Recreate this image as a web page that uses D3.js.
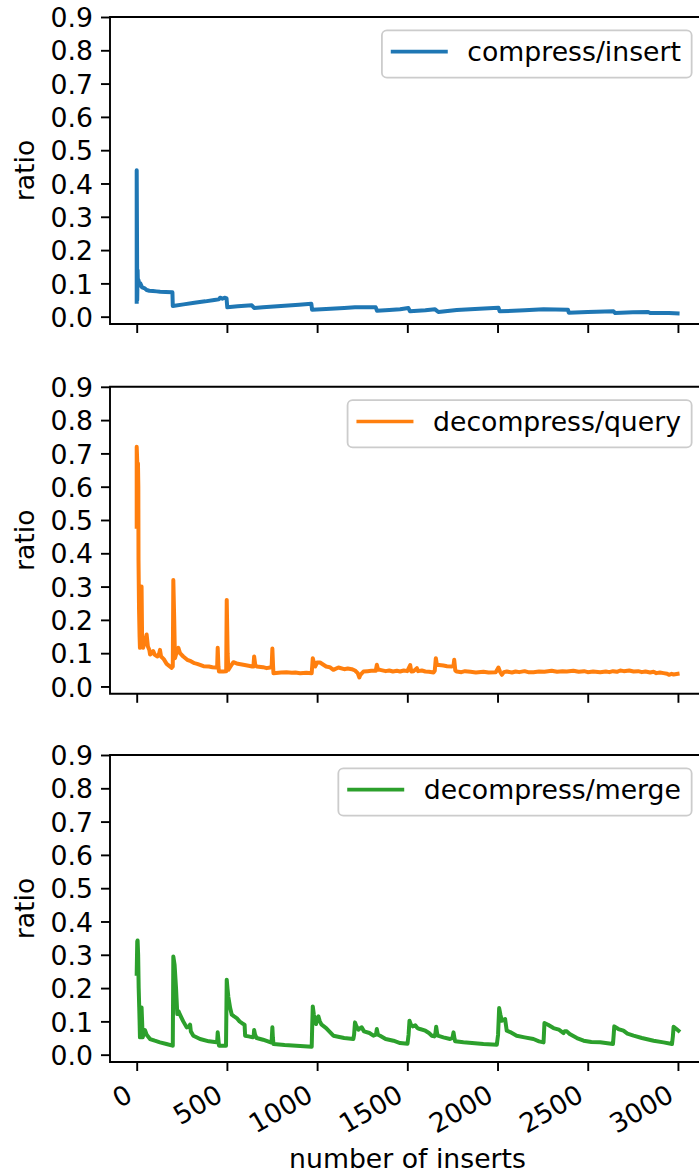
<!DOCTYPE html>
<html>
<head>
<meta charset="utf-8">
<script src="https://cdn.jsdelivr.net/npm/d3@7"></script>
<style>
  html, body { margin: 0; padding: 0; background: #fff; }
  svg text { font-family: "DejaVu Sans", sans-serif; fill: #000; }
</style>
</head>
<body>
<svg id="chart" width="699" height="1174"></svg>
<script>
// ---- data ----
const seriesNames = ["compress/insert", "decompress/query", "decompress/merge"];
const seriesColors = ["#1f77b4", "#ff7f0e", "#2ca02c"];
const xTickValues = [0, 500, 1000, 1500, 2000, 2500, 3000];
const yTickValues = [0.0, 0.1, 0.2, 0.3, 0.4, 0.5, 0.6, 0.7, 0.8, 0.9];
const xLabel = "number of inserts";
const yLabel = "ratio";

const insertX = [0,0,2,3,5,7,10,15,20,30,45,55,70,90,110,130,160,198,200,260,320,380,430,455,462,475,490,498,502,560,638,651,700,800,900,968,972,1050,1150,1210,1325,1332,1400,1460,1506,1515,1600,1654,1672,1774,1900,2005,2012,2150,2255,2390,2395,2500,2643,2652,2750,2835,2846,2950,2998];
const insertY = [0.045,0.44,0.2,0.05,0.14,0.09,0.11,0.095,0.1,0.088,0.085,0.08,0.078,0.077,0.076,0.075,0.074,0.073,0.032,0.037,0.042,0.046,0.05,0.052,0.057,0.054,0.057,0.055,0.028,0.031,0.034,0.026,0.028,0.032,0.036,0.039,0.021,0.023,0.026,0.028,0.028,0.018,0.02,0.022,0.026,0.016,0.019,0.022,0.014,0.02,0.024,0.027,0.016,0.019,0.022,0.021,0.012,0.014,0.016,0.011,0.013,0.014,0.011,0.011,0.01];

const queryX = [0,0,4,7,9,10,13,16,18,22,25,27,30,35,40,48,55,62,70,74,85,92,100,115,125,129,135,150,166,180,194,200,203,208,212,220,231,240,258,280,300,320,335,351,370,400,420,440,446,449,453,456,480,496,499,504,508,520,536,560,591,620,640,647,651,657,665,700,720,739,748,752,756,758,800,830,860,880,906,940,970,976,983,989,1000,1016,1050,1070,1090,1118,1150,1170,1192,1210,1225,1234,1240,1257,1280,1300,1325,1331,1338,1349,1380,1400,1420,1442,1460,1480,1500,1516,1522,1534,1553,1560,1580,1600,1620,1645,1652,1658,1664,1700,1720,1747,1756,1760,1766,1774,1800,1820,1850,1880,1922,1950,1990,2005,2014,2024,2035,2051,2080,2100,2120,2150,2170,2199,2230,2260,2300,2330,2360,2384,2420,2450,2480,2500,2530,2569,2600,2620,2640,2662,2680,2700,2730,2754,2780,2800,2820,2846,2865,2880,2900,2920,2940,2950,2965,2976,2998];
const queryY = [0.48,0.72,0.66,0.67,0.6,0.38,0.23,0.15,0.116,0.13,0.2,0.30,0.14,0.116,0.125,0.14,0.156,0.12,0.11,0.096,0.1,0.106,0.095,0.09,0.1,0.11,0.09,0.082,0.068,0.062,0.056,0.06,0.32,0.2,0.085,0.1,0.116,0.1,0.09,0.08,0.076,0.07,0.068,0.065,0.061,0.06,0.058,0.057,0.058,0.116,0.06,0.045,0.045,0.046,0.26,0.1,0.05,0.06,0.073,0.068,0.065,0.062,0.06,0.06,0.09,0.065,0.06,0.058,0.055,0.057,0.06,0.114,0.06,0.04,0.042,0.043,0.041,0.042,0.04,0.041,0.04,0.085,0.07,0.06,0.072,0.072,0.06,0.058,0.05,0.057,0.052,0.054,0.052,0.048,0.04,0.027,0.035,0.045,0.046,0.047,0.047,0.065,0.05,0.05,0.046,0.048,0.045,0.047,0.045,0.048,0.046,0.064,0.045,0.046,0.055,0.046,0.048,0.045,0.044,0.042,0.047,0.085,0.065,0.063,0.061,0.06,0.062,0.08,0.048,0.045,0.043,0.046,0.044,0.042,0.044,0.042,0.043,0.057,0.044,0.035,0.043,0.045,0.042,0.045,0.043,0.046,0.043,0.043,0.045,0.044,0.047,0.044,0.046,0.045,0.047,0.044,0.046,0.043,0.045,0.043,0.045,0.043,0.046,0.044,0.048,0.046,0.048,0.045,0.046,0.043,0.045,0.042,0.044,0.04,0.042,0.04,0.038,0.035,0.038,0.036,0.038,0.042,0.045,0.044];

const mergeX = [0,3,5,8,11,14,16,18,22,25,27,30,33,40,46,55,74,100,129,165,198,200,203,210,218,225,232,240,258,277,290,296,300,314,351,400,443,446,449,452,456,495,499,503,508,518,527,540,554,570,591,598,601,620,643,648,651,656,665,700,743,748,752,755,758,820,906,970,973,976,982,988,994,1000,1007,1015,1025,1050,1090,1150,1201,1205,1210,1218,1229,1240,1247,1260,1290,1312,1326,1331,1337,1349,1380,1423,1460,1501,1507,1512,1520,1530,1544,1556,1570,1600,1620,1636,1650,1656,1660,1665,1669,1700,1737,1750,1756,1762,1765,1811,1922,1996,2003,2009,2016,2024,2035,2042,2051,2070,2106,2150,2199,2230,2255,2258,2260,2280,2310,2340,2366,2372,2384,2400,2440,2477,2520,2569,2640,2644,2647,2670,2698,2720,2754,2800,2865,2920,2967,2972,2976,2990,3003];
const mergeY = [0.243,0.34,0.343,0.3,0.2,0.142,0.1,0.052,0.06,0.12,0.142,0.1,0.052,0.065,0.074,0.06,0.047,0.042,0.037,0.032,0.027,0.027,0.295,0.27,0.2,0.122,0.13,0.12,0.1,0.082,0.085,0.09,0.07,0.057,0.047,0.04,0.037,0.04,0.067,0.05,0.027,0.027,0.225,0.2,0.173,0.14,0.12,0.115,0.11,0.1,0.092,0.09,0.057,0.055,0.052,0.055,0.074,0.06,0.05,0.045,0.037,0.04,0.082,0.05,0.032,0.029,0.026,0.024,0.09,0.145,0.12,0.1,0.092,0.11,0.115,0.1,0.09,0.08,0.057,0.05,0.047,0.06,0.097,0.085,0.075,0.08,0.082,0.07,0.065,0.057,0.06,0.077,0.06,0.057,0.047,0.042,0.035,0.033,0.06,0.102,0.09,0.085,0.088,0.08,0.077,0.072,0.065,0.057,0.055,0.065,0.084,0.065,0.057,0.052,0.047,0.05,0.067,0.047,0.04,0.037,0.032,0.03,0.06,0.14,0.12,0.102,0.105,0.107,0.072,0.068,0.057,0.052,0.047,0.04,0.037,0.07,0.095,0.09,0.08,0.075,0.065,0.07,0.07,0.062,0.05,0.042,0.038,0.037,0.032,0.06,0.085,0.077,0.072,0.063,0.057,0.05,0.042,0.037,0.032,0.055,0.084,0.078,0.072];

const seriesX = [insertX, queryX, mergeX];
const seriesY = [insertY, queryY, mergeY];

// ---- layout ----
const FS = 26.7;
const svg = d3.select("#chart");
const plotLeft = 110, plotRight = 705;
const panelTops = [17, 386.8, 755];
const panelH = 307;
const tickLen = 9;

const x = d3.scaleLinear().domain([-148, 3150]).range([plotLeft, plotRight]);

const defs = svg.append("defs");

panelTops.forEach((top, i) => {
  const bottom = top + panelH;
  const y = d3.scaleLinear().domain([-0.022, 0.9]).range([bottom, top]);
  const g = svg.append("g");

  defs.append("clipPath").attr("id", "clip" + i)
    .append("rect").attr("x", plotLeft).attr("y", top)
    .attr("width", plotRight - plotLeft).attr("height", panelH);

  // line
  const pts = seriesX[i].map((xv, k) => [xv, seriesY[i][k]]);
  const line = d3.line().x(d => x(d[0])).y(d => y(d[1]));
  g.append("path")
    .attr("clip-path", `url(#clip${i})`)
    .attr("d", line(pts))
    .attr("fill", "none")
    .attr("stroke", seriesColors[i])
    .attr("stroke-width", 4)
    .attr("stroke-linejoin", "round")
    .attr("stroke-linecap", "square");

  // y axis
  const yAxis = d3.axisLeft(y).tickValues(yTickValues).tickFormat(d3.format(".1f"))
    .tickSize(tickLen).tickPadding(8);
  const ya = g.append("g").attr("transform", `translate(${plotLeft},0)`).call(yAxis);
  ya.select(".domain").remove();
  ya.selectAll(".tick line").attr("stroke", "#000").attr("stroke-width", 1.9);
  ya.selectAll(".tick text").attr("font-size", FS).attr("font-family", "DejaVu Sans")
    .attr("dy", "0.36em").attr("fill", "#000");

  // x axis
  const xAxis = d3.axisBottom(x).tickValues(xTickValues).tickSize(tickLen)
    .tickFormat(i === 2 ? d3.format("d") : () => "");
  const xa = g.append("g").attr("transform", `translate(0,${bottom})`).call(xAxis);
  xa.select(".domain").remove();
  xa.selectAll(".tick line").attr("stroke", "#000").attr("stroke-width", 1.9);
  if (i === 2) {
    xa.selectAll(".tick text")
      .attr("font-size", FS).attr("font-family", "DejaVu Sans").attr("fill", "#000")
      .attr("text-anchor", "end")
      .attr("x", -3).attr("y", 38).attr("dy", 0)
      .attr("transform", "rotate(-30,-3,38)");
  } else {
    xa.selectAll(".tick text").remove();
  }

  // spines: left, top, bottom (right is off-canvas)
  g.append("path")
    .attr("d", `M${plotRight},${top}H${plotLeft}V${bottom}H${plotRight}`)
    .attr("fill", "none").attr("stroke", "#000").attr("stroke-width", 1.9)
    .attr("stroke-linecap", "square");

  // y label
  g.append("text")
    .attr("transform", `translate(34,${(top + bottom) / 2}) rotate(-90)`)
    .attr("text-anchor", "middle")
    .attr("font-size", FS)
    .text(yLabel);

  // legend
  const leg = g.append("g");
  const txt = leg.append("text").attr("font-size", FS).text(seriesNames[i]);
  const tw = txt.node().getComputedTextLength();
  const pad = 0.4 * FS, hl = 2 * FS, htp = 0.8 * FS;
  const boxW = tw + 2 * pad + hl + htp;
  const boxH = 47.3;
  const boxRight = plotRight - 0.5 * FS;
  const boxLeft = boxRight - boxW;
  const boxTop = top + 0.5 * FS;
  leg.insert("rect", "text")
    .attr("x", boxLeft).attr("y", boxTop).attr("width", boxW).attr("height", boxH)
    .attr("rx", 5).attr("ry", 5)
    .attr("fill", "rgba(255,255,255,0.8)").attr("stroke", "#cccccc").attr("stroke-width", 1.8);
  const cy = boxTop + 21.3;
  leg.insert("line", "text")
    .attr("x1", boxLeft + pad).attr("x2", boxLeft + pad + hl)
    .attr("y1", cy).attr("y2", cy)
    .attr("stroke", seriesColors[i]).attr("stroke-width", 3.6).attr("stroke-linecap", "square");
  txt.attr("x", boxLeft + pad + hl + htp).attr("y", cy + 9.3);
});

// x label
svg.append("text")
  .attr("x", (plotLeft + plotRight) / 2).attr("y", 1168)
  .attr("text-anchor", "middle").attr("font-size", FS)
  .text(xLabel);
</script>
</body>
</html>
